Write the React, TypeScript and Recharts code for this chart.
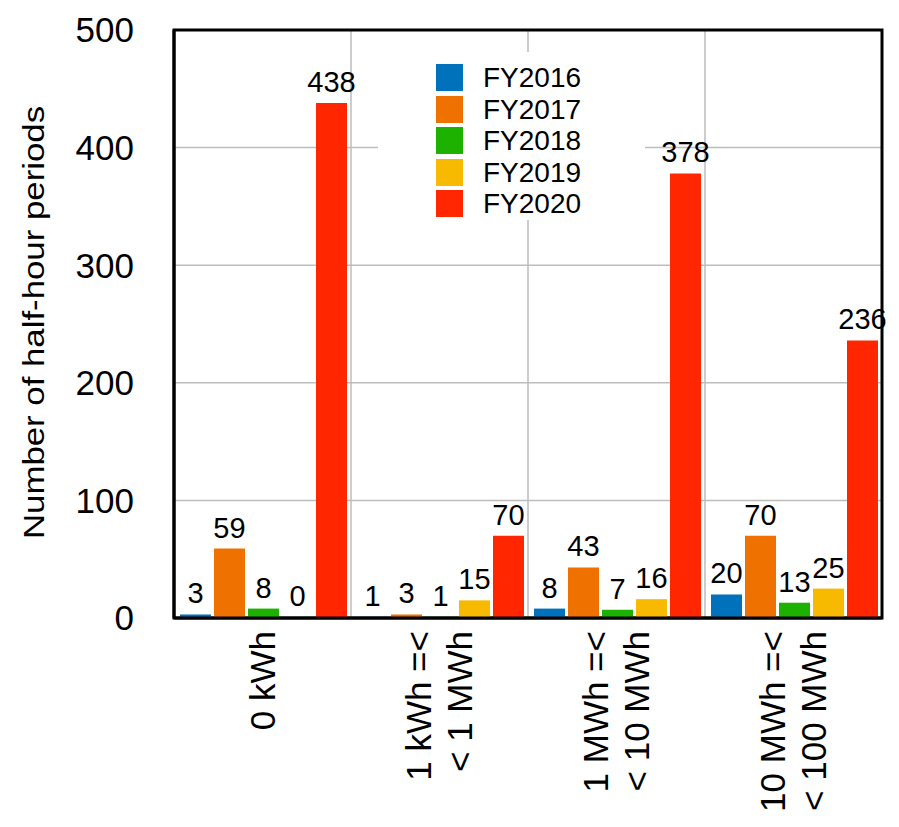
import React from 'react';
import { BarChart, Bar, XAxis, YAxis, CartesianGrid, Legend, LabelList, ReferenceArea } from 'recharts';

// energy bands on the x axis (\n = line break in the rotated tick)
const categories = ['0 kWh', '1 kWh =<\n< 1 MWh', '1 MWh =<\n< 10 MWh', '10 MWh =<\n< 100 MWh'];

const fy2016 = [3, 1, 8, 20];
const fy2017 = [59, 3, 43, 70];
const fy2018 = [8, 1, 7, 13];
const fy2019 = [0, 15, 16, 25];
const fy2020 = [438, 70, 378, 236];

const yTicks = [0, 100, 200, 300, 400, 500];

const series = [
  { key: 'FY2016', values: fy2016, color: '#0071bb' },
  { key: 'FY2017', values: fy2017, color: '#ef7100' },
  { key: 'FY2018', values: fy2018, color: '#1db100' },
  { key: 'FY2019', values: fy2019, color: '#f8ba00' },
  { key: 'FY2020', values: fy2020, color: '#ff2600' },
];

const data = categories.map((name, i) => {
  const row: Record<string, string | number> = { name };
  series.forEach((s) => {
    row[s.key] = s.values[i];
  });
  return row;
});

const FONT = '"Liberation Sans", Arial, Helvetica, sans-serif';

const CategoryTick = (props: any) => {
  const { x, y, payload } = props;
  const lines = String(payload.value).split('\n');
  return (
    <g>
      {lines.map((line, i) => {
        const cx = x + (i - (lines.length - 1) / 2) * 41;
        return (
          <text
            key={i}
            transform={`translate(${cx + 12},${y}) rotate(-90)`}
            textAnchor="end"
            fontSize={35}
            fontFamily={FONT}
            fill="#000"
          >
            {line}
          </text>
        );
      })}
    </g>
  );
};

const YTitle = (props: any) => {
  const vb = props.viewBox || { x: 0, y: 0, height: 0 };
  const cy = vb.y + vb.height / 2 - 1.5;
  return (
    <text
      transform={`translate(${vb.x + 44},${cy}) rotate(-90) scale(1.2,1)`}
      textAnchor="middle"
      fontSize={29}
      fontFamily={FONT}
      fill="#000"
    >
      Number of half-hour periods
    </text>
  );
};

const renderLegend = (props: any) => {
  const items = props.payload && props.payload.length
    ? props.payload.map((p: any) => ({ key: p.value, color: p.color }))
    : series;
  return (
    <div style={{ position: 'relative', width: 267, height: 168 }}>
      {items.map((entry: any, i: number) => (
        <div
          key={entry.key}
          style={{ position: 'absolute', left: 58, top: 12 + i * 31.6, height: 27, display: 'flex', alignItems: 'center' }}
        >
          <span style={{ width: 27, height: 27, background: entry.color, display: 'inline-block' }} />
          <span style={{ marginLeft: 20, fontSize: 28, fontFamily: FONT, color: '#000', lineHeight: '27px' }}>
            {entry.key}
          </span>
        </div>
      ))}
    </div>
  );
};

const App: React.FC = () => {
  return (
    <div style={{ position: 'absolute', left: 0, top: 0, fontFamily: FONT, background: '#fff' }}>
      <BarChart
        width={899}
        height={827}
        data={data}
        margin={{ top: 30, right: 17, bottom: 0, left: 0 }}
        barCategoryGap={6}
        barGap={3}
      >
        <CartesianGrid
          stroke="#bdbdbd"
          strokeWidth={1.5}
          verticalCoordinatesGenerator={({ offset }: any) =>
            [1, 2, 3].map((i) => offset.left + (offset.width * i) / categories.length)
          }
        />
        <XAxis
          dataKey="name"
          height={209}
          interval={0}
          tickLine={false}
          tickMargin={7}
          axisLine={{ stroke: '#000', strokeWidth: 3 }}
          tick={<CategoryTick />}
        />
        <YAxis
          width={174}
          domain={[0, 500]}
          ticks={yTicks}
          interval={0}
          tickLine={false}
          tickMargin={34}
          axisLine={{ stroke: '#000', strokeWidth: 3 }}
          tick={{ fontSize: 35, fill: '#000', fontFamily: FONT }}
          label={{ content: <YTitle /> }}
        />
        {/* black frame round the plot area */}
        <ReferenceArea y1={0} y2={500} fill="none" fillOpacity={0} stroke="#000" strokeWidth={3} strokeOpacity={1} />
        <Legend
          layout="vertical"
          align="center"
          verticalAlign="middle"
          wrapperStyle={{ left: 378, top: 52, width: 267, height: 168, background: '#fff' }}
          content={renderLegend}
        />
        {series.map((s) => (
          <Bar key={s.key} dataKey={s.key} name={s.key} fill={s.color} minPointSize={1} isAnimationActive={false}>
            <LabelList dataKey={s.key} position="top" offset={11} fontSize={29} fill="#000" fontFamily={FONT} />
          </Bar>
        ))}
      </BarChart>
    </div>
  );
};

export default App;
